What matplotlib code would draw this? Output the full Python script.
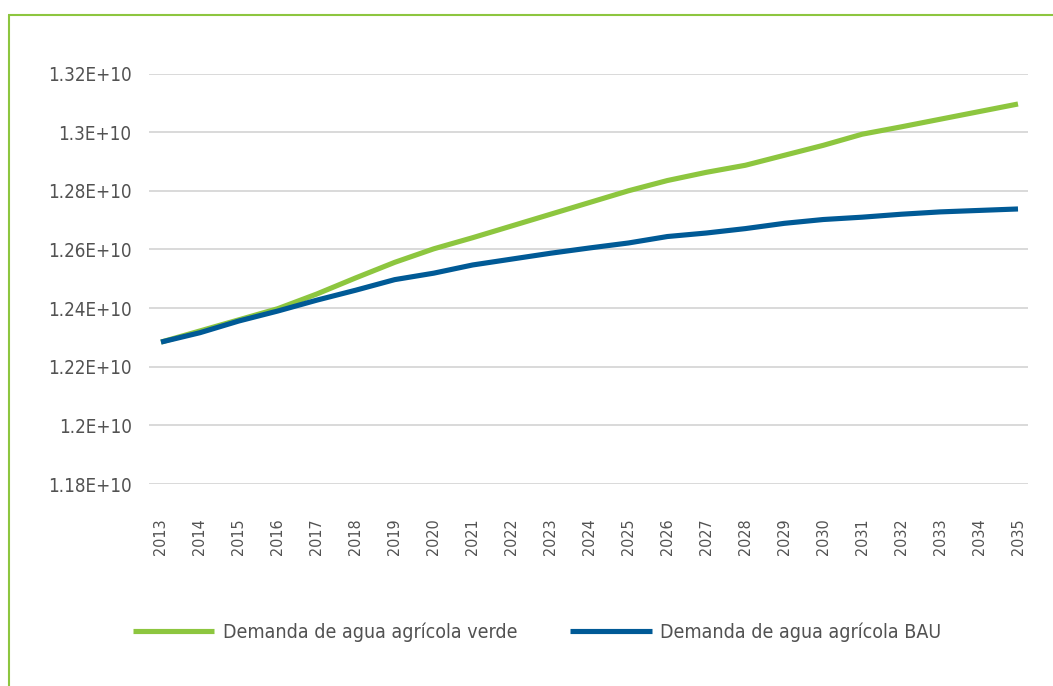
import matplotlib
matplotlib.use("Agg")
import matplotlib.pyplot as plt
from matplotlib.lines import Line2D

years = list(range(2013, 2036))
verde = [1.2284, 1.2322, 1.2360, 1.2398, 1.2448, 1.2503, 1.2556, 1.2602,
         1.2640, 1.2680, 1.2720, 1.2760, 1.2800, 1.2835, 1.2863, 1.2887,
         1.2921, 1.2955, 1.2993, 1.3018, 1.3044, 1.3070, 1.3096]
bau = [1.2284, 1.2316, 1.2356, 1.2390, 1.2427, 1.2461, 1.2497, 1.2519,
       1.2547, 1.2567, 1.2587, 1.2605, 1.2622, 1.2644, 1.2656, 1.2671,
       1.2689, 1.2702, 1.2710, 1.2720, 1.2728, 1.2733, 1.2738]
scale = 1e10
yticks = [1.18, 1.20, 1.22, 1.24, 1.26, 1.28, 1.30, 1.32]
ytick_labels = ["1.18E+10", "1.2E+10", "1.22E+10", "1.24E+10",
                "1.26E+10", "1.28E+10", "1.3E+10", "1.32E+10"]
series_names = ["Demanda de agua agrícola verde", "Demanda de agua agrícola BAU"]

GREEN = "#8DC63F"
BLUE = "#005A96"
TXT = "#525252"
FONT = "DejaVu Sans"
STRETCH = "condensed"

fig = plt.figure(figsize=(10.53, 6.86), dpi=100)
W, H = 1053, 686
ax = fig.add_axes([149 / W, 1 - 484 / H, (1028 - 149) / W, (484 - 73.5) / H])

ax.plot(years, [v * scale for v in verde], color=GREEN, lw=3.7, solid_capstyle="butt")
ax.plot(years, [v * scale for v in bau], color=BLUE, lw=3.7, solid_capstyle="butt")

ax.set_ylim(1.18 * scale, 1.32 * scale)
step = (1018 - 161) / 22
ax.set_xlim(2013 - 12 / step, 2035 + 10 / step)
ax.set_yticks([t * scale for t in yticks])
ax.set_yticklabels(ytick_labels, fontfamily=FONT, fontstretch=STRETCH,
                   fontsize=13.5, color=TXT)
ax.set_xticks(years)
ax.set_xticklabels([str(y) for y in years], rotation=90, fontfamily=FONT,
                   fontstretch=STRETCH, fontsize=11.5, color=TXT)
ax.tick_params(axis="both", length=0)
ax.tick_params(axis="y", pad=12.5)
ax.tick_params(axis="x", pad=25)
ax.grid(axis="y", color="#cfcfcf", lw=1.1)
ax.set_axisbelow(True)
for s in ax.spines.values():
    s.set_visible(False)

handles = [Line2D([], [], color=GREEN, lw=3.7, solid_capstyle="butt"),
           Line2D([], [], color=BLUE, lw=3.7, solid_capstyle="butt")]
leg = fig.legend(handles, series_names, loc="center", bbox_to_anchor=(537 / W, 1 - 632 / H),
                 ncol=2, frameon=False, handlelength=4.2, handletextpad=0.45,
                 columnspacing=2.7,
                 prop={"family": FONT, "stretch": STRETCH, "size": 14})
for t in leg.get_texts():
    t.set_color(TXT)

# green frame lines (top and left)
fig.add_artist(Line2D([8 / W, 1], [1 - 14.5 / H, 1 - 14.5 / H], color=GREEN, lw=1.5,
                      transform=fig.transFigure, solid_capstyle="butt"))
fig.add_artist(Line2D([8.5 / W, 8.5 / W], [0, 1 - 14.5 / H], color=GREEN, lw=1.5,
                      transform=fig.transFigure, solid_capstyle="butt"))

fig.savefig("out.png", dpi=100)
